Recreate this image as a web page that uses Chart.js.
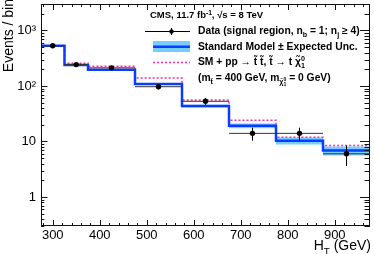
<!DOCTYPE html>
<html>
<head>
<meta charset="utf-8">
<script src="https://cdn.jsdelivr.net/npm/chart.js@4.4.0/dist/chart.umd.min.js"></script>
<style>
  html, body { margin: 0; padding: 0; background: #fff; }
</style>
</head>
<body>
<canvas id="grafico" width="374" height="254"></canvas>
<script>
// bin edges and centres in H_T (GeV)
const binEdges = [275, 325, 375, 475, 575, 675, 775, 875, 975];
const binCenters = [300, 350, 425, 525, 625, 725, 825, 925];

// observed data and its error
const dataCounts = [530, 243, 212, 97, 53, 14, 14, 6];
const dataErr = [23, 15.6, 14.6, 9.8, 7.3, 3.7, 3.7, 2.4];

// standard model expectation and its uncertainty
const smExpected = [530, 240, 196, 109, 43.5, 19.2, 10.3, 6.85];
const smUnc = [10, 6, 5, 3.5, 2.5, 1.9, 1.45, 1.25];

// SM + stop signal (m_stop = 400 GeV)
const smPlusSignal = [532, 257, 227, 139, 56, 24.2, 11.9, 8.45];

const xTicks = [300, 400, 500, 600, 700, 800, 900];
const yTicks = [1, 10, 100, 1000];
const yTickLabels = ['1', '10', '10²', '10³'];

const FONT = '"Liberation Sans", Arial, sans-serif';

function stepPoints(vals) {
  const pts = vals.map((v, i) => ({x: binEdges[i], y: v}));
  pts.push({x: binEdges[binEdges.length - 1], y: vals[vals.length - 1]});
  return pts;
}

const bandUp = smExpected.map((v, i) => v + smUnc[i]);
const bandDown = smExpected.map((v, i) => v - smUnc[i]);

const dataXBars = [];
const dataYBars = [];
binCenters.forEach((c, i) => {
  dataXBars.push({x: binEdges[i], y: dataCounts[i]}, {x: binEdges[i + 1], y: dataCounts[i]}, {x: binEdges[i + 1], y: null});
  dataYBars.push({x: c, y: dataCounts[i] - dataErr[i]}, {x: c, y: dataCounts[i] + dataErr[i]}, {x: c, y: null});
});

// text with sub / superscripts
function richText(ctx, x, y, parts, size, bold) {
  for (const p of parts) {
    let s = size, dy = 0;
    if (p.k === 'sub') { s = size * 0.7; dy = size * 0.3; }
    if (p.k === 'sup') { s = size * 0.7; dy = -size * 0.4; }
    if (p.k === 'ss') { s = size * 0.5; dy = size * 0.55; }
    if (p.k === 'sp') { s = size * 0.5; dy = size * 0.05; }
    ctx.font = (bold ? 'bold ' : '') + s + 'px ' + FONT;
    ctx.fillText(p.t, x, y + dy);
    if (!p.stack) x += ctx.measureText(p.t).width;
  }
  return x;
}

const frame = {
  id: 'frame',
  afterDraw(chart) {
    const ctx = chart.ctx;
    const a = chart.chartArea;
    const xs = chart.scales.x, ys = chart.scales.y;
    ctx.save();
    ctx.strokeStyle = '#111';
    ctx.lineWidth = 1;
    ctx.strokeRect(a.left + 0.5, a.top + 0.5, a.right - a.left - 1, a.bottom - a.top - 1);

    ctx.beginPath();
    for (let v = 280; v <= 960; v += 20) {
      const px = Math.round(xs.getPixelForValue(v)) + 0.5;
      const len = v % 100 === 0 ? 6 : 3;
      ctx.moveTo(px, a.bottom); ctx.lineTo(px, a.bottom - len);
      ctx.moveTo(px, a.top); ctx.lineTo(px, a.top + len);
    }
    for (let k = -1; k <= 3; k++) {
      for (let m = 1; m <= 9; m++) {
        const v = m * Math.pow(10, k);
        if (v < 0.3 || v > 3000) continue;
        const py = Math.round(ys.getPixelForValue(v)) + 0.5;
        const major = m === 1;
        ctx.moveTo(a.left, py); ctx.lineTo(a.left + (major ? 6.5 : 3.3), py);
        ctx.moveTo(a.right, py); ctx.lineTo(a.right - (major ? 10 : 5.5), py);
      }
    }
    ctx.stroke();

    // axis titles
    ctx.fillStyle = '#000';
    ctx.font = '14px ' + FONT;
    ctx.save();
    ctx.translate(13, -1);
    ctx.rotate(-Math.PI / 2);
    ctx.textAlign = 'right';
    ctx.textBaseline = 'alphabetic';
    ctx.fillText('Events / bin', 0, 0);
    ctx.restore();

    ctx.textAlign = 'left';
    ctx.textBaseline = 'alphabetic';
    const hParts = [{t: 'H'}, {t: 'T', k: 'sub'}, {t: ' (GeV)'}];
    ctx.font = '14px ' + FONT;
    let w = ctx.measureText('H').width + ctx.measureText(' (GeV)').width;
    ctx.font = (14 * 0.7) + 'px ' + FONT;
    w += ctx.measureText('T').width;
    richText(ctx, 371 - w, 250, hParts, 14, false);

    // header
    richText(ctx, 150, 18.3, [
      {t: 'CMS, 11.7 fb'}, {t: '-1', k: 'sup'}, {t: ', √s = 8 TeV'}
    ], 9.5, true);

    // legend symbols
    ctx.strokeStyle = '#000';
    ctx.lineWidth = 1;
    ctx.beginPath();
    ctx.moveTo(145, 31.5); ctx.lineTo(190, 31.5);
    ctx.moveTo(171.5, 28); ctx.lineTo(171.5, 35);
    ctx.stroke();
    ctx.beginPath();
    ctx.arc(171.5, 31.5, 2.2, 0, Math.PI * 2);
    ctx.fillStyle = '#000';
    ctx.fill();

    ctx.fillStyle = 'rgb(120, 205, 255)';
    ctx.fillRect(153, 41, 37, 11);
    ctx.strokeStyle = '#0a3cff';
    ctx.lineWidth = 2.5;
    ctx.beginPath(); ctx.moveTo(153, 46.7); ctx.lineTo(190, 46.7); ctx.stroke();

    ctx.strokeStyle = '#ff2a9d';
    ctx.lineWidth = 1.5;
    ctx.setLineDash([2, 2]);
    ctx.beginPath(); ctx.moveTo(153, 62.5); ctx.lineTo(190, 62.5); ctx.stroke();
    ctx.setLineDash([]);

    // legend text
    ctx.fillStyle = '#000';
    const ls = 10.3;
    richText(ctx, 198, 34, [
      {t: 'Data (signal region, n'}, {t: 'b', k: 'sub'}, {t: ' = 1; n'}, {t: 'j', k: 'sub'}, {t: ' ≥ 4)'}
    ], ls, true);
    richText(ctx, 198, 49.5, [{t: 'Standard Model ± Expected Unc.'}], ls, true);
    richText(ctx, 198, 65, [
      {t: 'SM + pp → t\u0303 t\u0303, t\u0303 → t χ\u0303'}, {t: '0', k: 'sup', stack: true}, {t: '1', k: 'sub'}
    ], ls, true);
    richText(ctx, 198, 80.5, [
      {t: '(m'}, {t: 't\u0303', k: 'sub'}, {t: ' = 400 GeV, m'}, {t: 'χ\u0303', k: 'sub'},
      {t: '0', k: 'sp', stack: true}, {t: '1', k: 'ss'}, {t: ' = 0 GeV)'}
    ], ls, true);
    ctx.restore();
  }
};

const lineBase = {type: 'line', pointRadius: 0, fill: false, tension: 0};

new Chart(document.getElementById('grafico'), {
  type: 'line',
  data: {
    datasets: [
      {type: 'scatter', data: binCenters.map((c, i) => ({x: c, y: dataCounts[i]})),
        pointRadius: 2.7, pointBackgroundColor: '#000', pointBorderWidth: 0, showLine: false},
      Object.assign({}, lineBase, {data: dataYBars, borderColor: '#000', borderWidth: 1}),
      Object.assign({}, lineBase, {data: dataXBars, borderColor: '#333', borderWidth: 1}),
      Object.assign({}, lineBase, {data: stepPoints(smExpected), stepped: true, borderColor: '#0a3cff', borderWidth: 2.5}),
      Object.assign({}, lineBase, {data: stepPoints(smPlusSignal), stepped: true, borderColor: '#ff2a9d', borderWidth: 1.5, borderDash: [2, 2]}),
      Object.assign({}, lineBase, {data: stepPoints(bandUp), stepped: true, borderWidth: 0, fill: '+1', backgroundColor: 'rgb(120, 205, 255)'}),
      Object.assign({}, lineBase, {data: stepPoints(bandDown), stepped: true, borderWidth: 0})
    ]
  },
  options: {
    responsive: false,
    animation: false,
    layout: {padding: {top: 1, right: 1, left: 0, bottom: 0}},
    plugins: {legend: {display: false}, tooltip: {enabled: false}},
    scales: {
      x: {
        type: 'linear', min: 275, max: 975,
        afterBuildTicks: s => { s.ticks = xTicks.map(v => ({value: v})); },
        afterFit: s => { s.height = 28; s.paddingLeft = 0; s.paddingRight = 0; },
        grid: {display: false, drawTicks: false},
        border: {display: false},
        ticks: {font: {family: FONT, size: 13}, color: '#000', padding: 2, maxRotation: 0, autoSkip: false}
      },
      y: {
        type: 'logarithmic', min: 0.3, max: 3000,
        afterBuildTicks: s => { s.ticks = yTicks.map(v => ({value: v})); },
        afterFit: s => { s.width = 41; s.paddingTop = 0; s.paddingBottom = 0; },
        grid: {display: false, drawTicks: false},
        border: {display: false},
        ticks: {font: {family: FONT, size: 13}, color: '#000', padding: 5, autoSkip: false,
          callback: v => yTickLabels[yTicks.indexOf(v)]}
      }
    }
  },
  plugins: [frame]
});
</script>
</body>
</html>
